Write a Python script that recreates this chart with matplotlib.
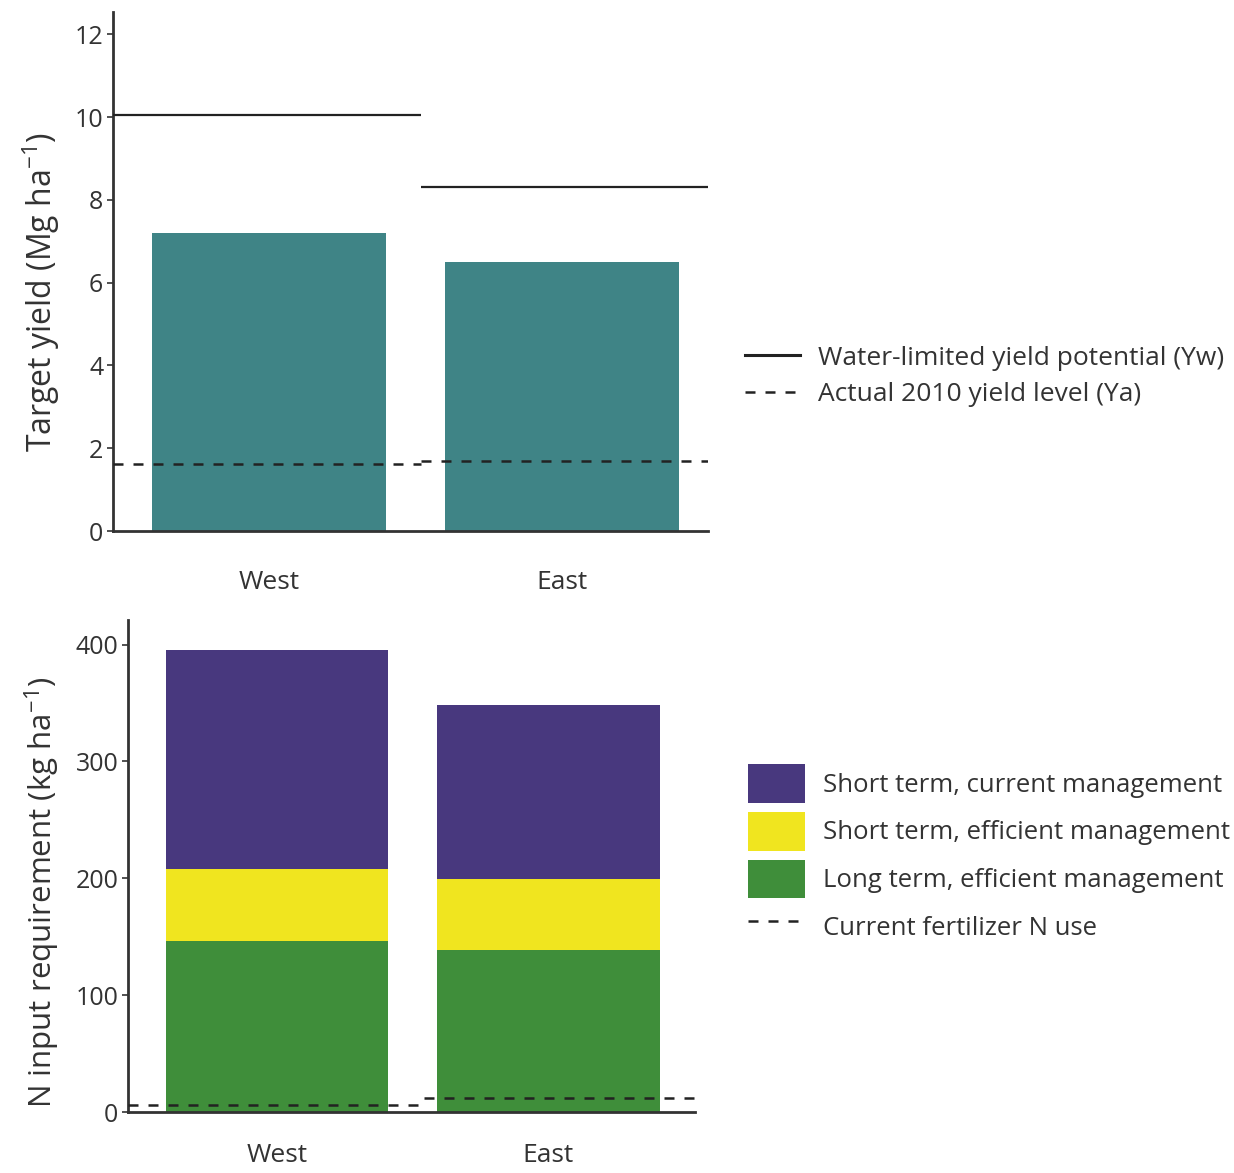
import matplotlib
matplotlib.use("Agg")
import matplotlib.pyplot as plt
from matplotlib.lines import Line2D
from matplotlib.patches import Patch
import numpy as np

plt.rcParams['font.family'] = ['Open Sans', 'DejaVu Sans']
plt.rcParams['mathtext.fontset'] = 'custom'
plt.rcParams['mathtext.rm'] = 'Open Sans'
plt.rcParams['mathtext.it'] = 'Open Sans'

regions = ["West", "East"]
target_yield = [7.2, 6.5]
yw = [10.05, 8.3]
ya = [1.63, 1.68]

short_current = [395, 348]
short_efficient = [208, 199]
long_efficient = [146, 139]
current_fert_n = [6, 12]

yield_legend = ["Water-limited yield potential (Yw)", "Actual 2010 yield level (Ya)"]
n_legend = ["Short term, current management", "Short term, efficient management",
            "Long term, efficient management", "Current fertilizer N use"]

teal = "#3F8486"
purple = "#48387E"
yellow = "#F0E51F"
green = "#3F8E3A"
dark = "#222222"
spine_c = "#333333"
txt_c = "#333333"

fig = plt.figure(figsize=(12.34, 11.73), dpi=100)

def style(ax, xpad):
    for s in ["top", "right"]:
        ax.spines[s].set_visible(False)
    for s in ["left", "bottom"]:
        ax.spines[s].set_color(spine_c)
        ax.spines[s].set_linewidth(2)
    ax.tick_params(axis='y', length=4, width=1.2, color=spine_c, labelsize=18, labelcolor=txt_c, pad=3)
    ax.tick_params(axis='x', length=0, labelsize=19, labelcolor=txt_c, pad=xpad)

# Top panel
ax1 = fig.add_axes([0.0916, 0.5473, 0.4821, 0.4425])
x = np.arange(len(regions))
ax1.bar(x, target_yield, width=0.8, color=teal, zorder=1)
edges = [(-0.533, 0.52), (0.52, 1.5)]
for i, (a, b) in enumerate(edges):
    ax1.hlines(yw[i], a, b, colors=dark, linewidth=1.6, zorder=3)
    ax1.hlines(ya[i], a, b, colors=dark, linewidth=1.8, linestyles=(0, (4, 4)), zorder=3)
ax1.set_xlim(-0.533, 1.5)
ax1.set_ylim(0, 12.54)
ax1.set_yticks([0, 2, 4, 6, 8, 10, 12])
ax1.set_xticks(x)
ax1.set_xticklabels(regions)
ax1.set_ylabel(r"Target yield (Mg ha$^{-1}$)", fontsize=23, color=txt_c)
ax1.yaxis.set_label_coords(-0.086, 0.46)
style(ax1, 28)

h1 = [Line2D([], [], color=dark, linewidth=2.2),
      Line2D([], [], color=dark, linewidth=1.8, linestyle=(0, (4, 4)))]
fig.legend(h1, yield_legend, loc="center left", bbox_to_anchor=(0.5845, 0.679),
           frameon=False, fontsize=19, handlelength=2.1, handletextpad=0.65,
           labelspacing=0.45, labelcolor=txt_c)

# Bottom panel
ax2 = fig.add_axes([0.1037, 0.052, 0.4595, 0.4194])
ax2.bar(x, short_current, width=0.82, color=purple, zorder=1)
ax2.bar(x, short_efficient, width=0.82, color=yellow, zorder=1)
ax2.bar(x, long_efficient, width=0.82, color=green, zorder=1)
edges2 = [(-0.55, 0.54), (0.54, 1.54)]
for i, (a, b) in enumerate(edges2):
    ax2.hlines(current_fert_n[i], a, b, colors=dark, linewidth=1.8, linestyles=(0, (4, 4)), zorder=3)
ax2.set_xlim(-0.55, 1.54)
ax2.set_ylim(0, 421)
ax2.set_yticks([0, 100, 200, 300, 400])
ax2.set_xticks(x)
ax2.set_xticklabels(regions)
ax2.set_ylabel(r"N input requirement (kg ha$^{-1}$)", fontsize=22.5, color=txt_c)
ax2.yaxis.set_label_coords(-0.116, 0.447)
style(ax2, 22)

h2 = [Patch(facecolor=purple), Patch(facecolor=yellow), Patch(facecolor=green),
      Line2D([], [], color=dark, linewidth=1.8, linestyle=(0, (4, 4)))]
fig.legend(h2, n_legend, loc="center left", bbox_to_anchor=(0.5875, 0.271),
           frameon=False, fontsize=18.5, handlelength=2.2, handleheight=1.95,
           handletextpad=0.7, labelspacing=0.35, labelcolor=txt_c)

fig.savefig("out.png", dpi=100, facecolor="white")
